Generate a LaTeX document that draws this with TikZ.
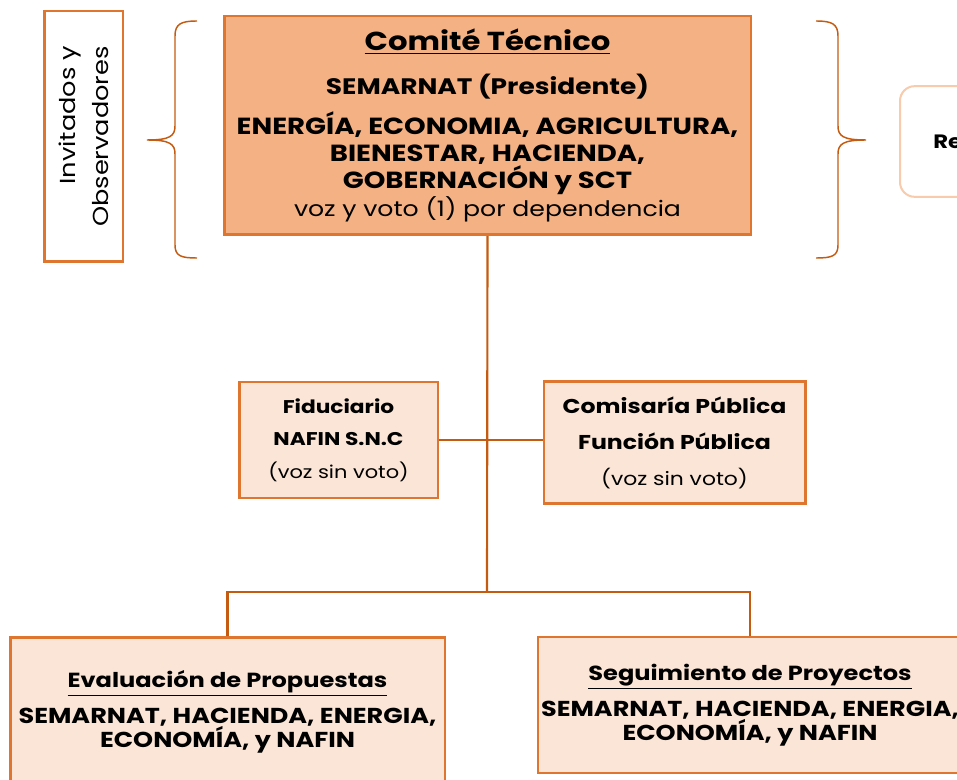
\documentclass[tikz,border=0pt]{standalone}
\usepackage{fontspec}
\setmainfont[FakeStretch=1.18]{Poppins}
\usepackage{tikz}
\usetikzlibrary{positioning}
\definecolor{cLine}{RGB}{197,90,17}
\definecolor{cBorder}{RGB}{222,118,48}
\definecolor{cMain}{RGB}{244,177,131}
\definecolor{cLight}{RGB}{251,229,214}
\definecolor{cSoft}{RGB}{248,203,173}

\begin{document}
\begin{tikzpicture}[
  x=0.75pt, y=-0.75pt,
  % Stiler.
  box/.style={rectangle, draw=cBorder, line width=2pt, align=center, inner sep=0pt},
  mainbox/.style={box, fill=cMain, minimum width=395pt, minimum height=164pt},
  lightbox/.style={box, fill=cLight},
  sidebox/.style={box, fill=white},
  repbox/.style={rectangle, rounded corners=11pt, draw=cSoft, line width=1.5pt, fill=white,
    align=left, text width=100pt, inner xsep=25pt, minimum height=83pt},
  link/.style={draw=cLine, line width=1.6pt},
  curly/.style={draw=cLine, line width=1.1pt}
]
\path[use as bounding box, clip] (0,0) rectangle (957,780);

% Topp.
\node (main) [mainbox, font=\fontsize{17.5}{20.5}\selectfont] at (487.5,125.5) {%
  {\fontsize{19.5}{20.5}\selectfont\bfseries\underline{Comité Técnico}}\\[12pt]
  {\fontsize{16.8}{20.5}\selectfont\bfseries SEMARNAT (Presidente)}\\[8.5pt]
  \textbf{ENERGÍA, ECONOMIA, AGRICULTURA,}\\
  \textbf{BIENESTAR, HACIENDA,}\\
  \textbf{GOBERNACIÓN y SCT}\\
  {\fontsize{16}{20.5}\selectfont voz y voto (1) por dependencia}};

% Sidebokser.
\node (guests) [sidebox, rotate=90, align=right, minimum width=188pt, minimum height=59pt,
  font=\fontsize{16.3}{25}\selectfont] at (83.5,136.5) {Invitados y\\Observadores};
\node (rep) [repbox, anchor=west, font=\fontsize{14.5}{17}\selectfont\bfseries] at (899,141.5) {Re};

% Klammer.
\draw[curly] (197,21) .. controls (181,21) and (175,24) .. (175,36) -- (175,126)
  .. controls (175,136) and (170,140) .. (147,140)
  .. controls (170,140) and (175,144) .. (175,154) -- (175,245)
  .. controls (175,256) and (181,258) .. (197,258);
\draw[curly] (816,21) .. controls (832,21) and (838,24) .. (838,36) -- (838,126)
  .. controls (838,136) and (843,140) .. (866,140)
  .. controls (843,140) and (838,144) .. (838,154) -- (838,245)
  .. controls (838,256) and (832,258) .. (816,258);

% Nivå 2.
\node (fid) [lightbox, minimum width=149pt, minimum height=87pt,
  font=\fontsize{13.8}{24.5}\selectfont] at (338.5,440)
  {\textbf{Fiduciario}\\\textbf{NAFIN S.N.C}\\{\fontsize{13.3}{24.5}\selectfont(voz sin voto)}};
\node (com) [lightbox, minimum width=196pt, minimum height=91pt,
  font=\fontsize{15}{27}\selectfont] at (674.5,442.5)
  {\textbf{Comisaría Pública}\\\textbf{Función Pública}\\{\fontsize{13.9}{27}\selectfont(voz sin voto)}};

% Nivå 3.
\node (eval) [lightbox, minimum width=326pt, minimum height=112pt,
  font=\bfseries\fontsize{16.2}{18}\selectfont] at (227.5,712)
  {{\fontsize{15.3}{18}\selectfont\underline{Evaluación de Propuestas}}\\[9pt]SEMARNAT, HACIENDA, ENERGIA,\\ECONOMÍA, y NAFIN};
\node (seg) [lightbox, minimum width=318pt, minimum height=102pt,
  font=\bfseries\fontsize{16.2}{18}\selectfont] at (750,705)
  {{\fontsize{15.3}{18}\selectfont\underline{Seguimiento de Proyectos}}\\[9pt]SEMARNAT, HACIENDA, ENERGIA,\\ECONOMÍA, y NAFIN};

% Linjer.
\coordinate (split) at (487,592);
\draw[link] (main.south) -- (split);
\draw[link] (fid.east) -- (fid.east -| com.west);
\draw[link] (eval.north) |- (split) -| (seg.north);
\end{tikzpicture}
\end{document}
